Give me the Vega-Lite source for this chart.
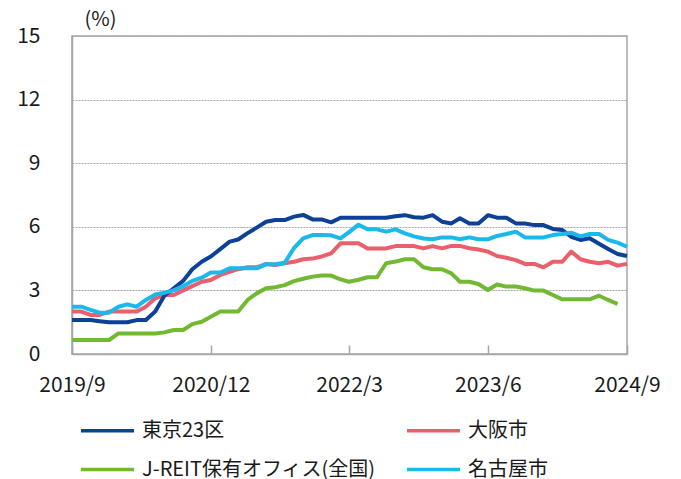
{
  "$schema": "https://vega.github.io/schema/vega-lite/v6.json",
  "autosize": {"type": "none"},
  "width": 555,
  "height": 318,
  "padding": {"left": 72, "top": 36, "right": 54, "bottom": 125},
  "background": "white",
  "config": {
    "font": "Noto Sans CJK JP",
    "view": {"stroke": "#a6a6a6", "strokeWidth": 1.5}
  },
  "data": {
    "values": [
      {"d": "2019-09-01", "東京23区": 1.6, "大阪市": 2.0, "J-REIT保有オフィス(全国)": 0.66, "名古屋市": 2.23},
      {"d": "2019-10-01", "東京23区": 1.6, "大阪市": 2.0, "J-REIT保有オフィス(全国)": 0.66, "名古屋市": 2.23},
      {"d": "2019-11-01", "東京23区": 1.6, "大阪市": 1.84, "J-REIT保有オフィス(全国)": 0.66, "名古屋市": 2.08},
      {"d": "2019-12-01", "東京23区": 1.55, "大阪市": 1.84, "J-REIT保有オフィス(全国)": 0.66, "名古屋市": 1.95},
      {"d": "2020-01-01", "東京23区": 1.5, "大阪市": 2.0, "J-REIT保有オフィス(全国)": 0.66, "名古屋市": 1.95},
      {"d": "2020-02-01", "東京23区": 1.5, "大阪市": 2.0, "J-REIT保有オフィス(全国)": 0.97, "名古屋市": 2.23},
      {"d": "2020-03-01", "東京23区": 1.5, "大阪市": 2.0, "J-REIT保有オフィス(全国)": 0.97, "名古屋市": 2.34},
      {"d": "2020-04-01", "東京23区": 1.6, "大阪市": 2.0, "J-REIT保有オフィス(全国)": 0.97, "名古屋市": 2.23},
      {"d": "2020-05-01", "東京23区": 1.6, "大阪市": 2.23, "J-REIT保有オフィス(全国)": 0.97, "名古屋市": 2.55},
      {"d": "2020-06-01", "東京23区": 2.0, "大阪市": 2.63, "J-REIT保有オフィス(全国)": 0.97, "名古屋市": 2.81},
      {"d": "2020-07-01", "東京23区": 2.75, "大阪市": 2.78, "J-REIT保有オフィス(全国)": 1.02, "名古屋市": 2.89},
      {"d": "2020-08-01", "東京23区": 3.1, "大阪市": 2.78, "J-REIT保有オフィス(全国)": 1.13, "名古屋市": 3.0},
      {"d": "2020-09-01", "東京23区": 3.45, "大阪市": 3.0, "J-REIT保有オフィス(全国)": 1.13, "名古屋市": 3.2},
      {"d": "2020-10-01", "東京23区": 4.0, "大阪市": 3.2, "J-REIT保有オフィス(全国)": 1.41, "名古屋市": 3.45},
      {"d": "2020-11-01", "東京23区": 4.35, "大阪市": 3.41, "J-REIT保有オフィス(全国)": 1.52, "名古屋市": 3.6},
      {"d": "2020-12-01", "東京23区": 4.6, "大阪市": 3.49, "J-REIT保有オフィス(全国)": 1.76, "名古屋市": 3.84},
      {"d": "2021-01-01", "東京23区": 4.95, "大阪市": 3.73, "J-REIT保有オフィス(全国)": 2.0, "名古屋市": 3.84},
      {"d": "2021-02-01", "東京23区": 5.3, "大阪市": 3.88, "J-REIT保有オフィス(全国)": 2.0, "名古屋市": 4.04},
      {"d": "2021-03-01", "東京23区": 5.4, "大阪市": 4.0, "J-REIT保有オフィス(全国)": 2.0, "名古屋市": 4.04},
      {"d": "2021-04-01", "東京23区": 5.7, "大阪市": 4.09, "J-REIT保有オフィス(全国)": 2.55, "名古屋市": 4.04},
      {"d": "2021-05-01", "東京23区": 5.96, "大阪市": 4.09, "J-REIT保有オフィス(全国)": 2.86, "名古屋市": 4.04},
      {"d": "2021-06-01", "東京23区": 6.24, "大阪市": 4.25, "J-REIT保有オフィス(全国)": 3.1, "名古屋市": 4.23},
      {"d": "2021-07-01", "東京23区": 6.32, "大阪市": 4.2, "J-REIT保有オフィス(全国)": 3.15, "名古屋市": 4.23},
      {"d": "2021-08-01", "東京23区": 6.32, "大阪市": 4.28, "J-REIT保有オフィス(全国)": 3.25, "名古屋市": 4.3},
      {"d": "2021-09-01", "東京23区": 6.48, "大阪市": 4.35, "J-REIT保有オフィス(全国)": 3.44, "名古屋市": 5.0},
      {"d": "2021-10-01", "東京23区": 6.56, "大阪市": 4.47, "J-REIT保有オフィス(全国)": 3.55, "名古屋市": 5.45},
      {"d": "2021-11-01", "東京23区": 6.35, "大阪市": 4.5, "J-REIT保有オフィス(全国)": 3.65, "名古屋市": 5.61},
      {"d": "2021-12-01", "東京23区": 6.35, "大阪市": 4.6, "J-REIT保有オフィス(全国)": 3.7, "名古屋市": 5.61},
      {"d": "2022-01-01", "東京23区": 6.21, "大阪市": 4.75, "J-REIT保有オフィス(全国)": 3.7, "名古屋市": 5.6},
      {"d": "2022-02-01", "東京23区": 6.43, "大阪市": 5.22, "J-REIT保有オフィス(全国)": 3.52, "名古屋市": 5.45},
      {"d": "2022-03-01", "東京23区": 6.43, "大阪市": 5.22, "J-REIT保有オフィス(全国)": 3.41, "名古屋市": 5.75},
      {"d": "2022-04-01", "東京23区": 6.43, "大阪市": 5.22, "J-REIT保有オフィス(全国)": 3.5, "名古屋市": 6.1},
      {"d": "2022-05-01", "東京23区": 6.43, "大阪市": 4.98, "J-REIT保有オフィス(全国)": 3.62, "名古屋市": 5.88},
      {"d": "2022-06-01", "東京23区": 6.43, "大阪市": 4.98, "J-REIT保有オフィス(全国)": 3.62, "名古屋市": 5.88},
      {"d": "2022-07-01", "東京23区": 6.43, "大阪市": 4.98, "J-REIT保有オフィス(全国)": 4.28, "名古屋市": 5.77},
      {"d": "2022-08-01", "東京23区": 6.5, "大阪市": 5.09, "J-REIT保有オフィス(全国)": 4.36, "名古屋市": 5.88},
      {"d": "2022-09-01", "東京23区": 6.55, "大阪市": 5.09, "J-REIT保有オフィス(全国)": 4.47, "名古屋市": 5.69},
      {"d": "2022-10-01", "東京23区": 6.45, "大阪市": 5.09, "J-REIT保有オフィス(全国)": 4.47, "名古屋市": 5.55},
      {"d": "2022-11-01", "東京23区": 6.43, "大阪市": 4.98, "J-REIT保有オフィス(全国)": 4.09, "名古屋市": 5.45},
      {"d": "2022-12-01", "東京23区": 6.55, "大阪市": 5.09, "J-REIT保有オフィス(全国)": 4.0, "名古屋市": 5.41},
      {"d": "2023-01-01", "東京23区": 6.24, "大阪市": 4.98, "J-REIT保有オフィス(全国)": 4.0, "名古屋市": 5.5},
      {"d": "2023-02-01", "東京23区": 6.16, "大阪市": 5.1, "J-REIT保有オフィス(全国)": 3.8, "名古屋市": 5.5},
      {"d": "2023-03-01", "東京23区": 6.4, "大阪市": 5.1, "J-REIT保有オフィス(全国)": 3.41, "名古屋市": 5.41},
      {"d": "2023-04-01", "東京23区": 6.16, "大阪市": 4.99, "J-REIT保有オフィス(全国)": 3.41, "名古屋市": 5.5},
      {"d": "2023-05-01", "東京23区": 6.16, "大阪市": 4.93, "J-REIT保有オフィス(全国)": 3.3, "名古屋市": 5.41},
      {"d": "2023-06-01", "東京23区": 6.55, "大阪市": 4.83, "J-REIT保有オフィス(全国)": 3.02, "名古屋市": 5.41},
      {"d": "2023-07-01", "東京23区": 6.43, "大阪市": 4.62, "J-REIT保有オフィス(全国)": 3.28, "名古屋市": 5.57},
      {"d": "2023-08-01", "東京23区": 6.43, "大阪市": 4.54, "J-REIT保有オフィス(全国)": 3.18, "名古屋市": 5.66},
      {"d": "2023-09-01", "東京23区": 6.16, "大阪市": 4.43, "J-REIT保有オフィス(全国)": 3.18, "名古屋市": 5.77},
      {"d": "2023-10-01", "東京23区": 6.16, "大阪市": 4.25, "J-REIT保有オフィス(全国)": 3.1, "名古屋市": 5.5},
      {"d": "2023-11-01", "東京23区": 6.08, "大阪市": 4.25, "J-REIT保有オフィス(全国)": 2.99, "名古屋市": 5.5},
      {"d": "2023-12-01", "東京23区": 6.08, "大阪市": 4.09, "J-REIT保有オフィス(全国)": 2.99, "名古屋市": 5.5},
      {"d": "2024-01-01", "東京23区": 5.9, "大阪市": 4.35, "J-REIT保有オフィス(全国)": 2.78, "名古屋市": 5.61},
      {"d": "2024-02-01", "東京23区": 5.85, "大阪市": 4.35, "J-REIT保有オフィス(全国)": 2.58, "名古屋市": 5.66},
      {"d": "2024-03-01", "東京23区": 5.53, "大阪市": 4.83, "J-REIT保有オフィス(全国)": 2.58, "名古屋市": 5.72},
      {"d": "2024-04-01", "東京23区": 5.38, "大阪市": 4.47, "J-REIT保有オフィス(全国)": 2.58, "名古屋市": 5.55},
      {"d": "2024-05-01", "東京23区": 5.46, "大阪市": 4.35, "J-REIT保有オフィス(全国)": 2.58, "名古屋市": 5.66},
      {"d": "2024-06-01", "東京23区": 5.2, "大阪市": 4.28, "J-REIT保有オフィス(全国)": 2.75, "名古屋市": 5.66},
      {"d": "2024-07-01", "東京23区": 4.95, "大阪市": 4.35, "J-REIT保有オフィス(全国)": 2.55, "名古屋市": 5.38},
      {"d": "2024-08-01", "東京23区": 4.72, "大阪市": 4.17, "J-REIT保有オフィス(全国)": 2.36, "名古屋市": 5.25},
      {"d": "2024-09-01", "東京23区": 4.62, "大阪市": 4.25, "名古屋市": 5.06}
    ]
  },
  "transform": [
    {"fold": ["J-REIT保有オフィス(全国)", "大阪市", "東京23区", "名古屋市"], "as": ["series", "value"]},
    {"filter": "isValid(datum.value)"}
  ],
  "mark": {"type": "line", "strokeWidth": 4, "strokeJoin": "round"},
  "encoding": {
    "x": {
      "field": "d",
      "type": "temporal",
      "scale": {
        "type": "utc",
        "nice": false,
        "domain": [
          {"year": 2019, "month": 9, "date": 1, "utc": true},
          {"year": 2024, "month": 9, "date": 1, "utc": true}
        ]
      },
      "axis": {
        "title": null,
        "values": [
          {"year": 2019, "month": 9, "date": 1, "utc": true},
          {"year": 2020, "month": 12, "date": 1, "utc": true},
          {"year": 2022, "month": 3, "date": 1, "utc": true},
          {"year": 2023, "month": 6, "date": 1, "utc": true},
          {"year": 2024, "month": 9, "date": 1, "utc": true}
        ],
        "labelExpr": "utcFormat(datum.value, '%Y/%-m')",
        "grid": false,
        "ticks": true,
        "tickSize": -9,
        "tickColor": "#a6a6a6",
        "tickWidth": 1.5,
        "domainColor": "#a6a6a6",
        "domainWidth": 1.5,
        "labelFontSize": 21,
        "labelColor": "#1a1a1a",
        "labelPadding": 29,
        "labelFlush": false,
        "labelOverlap": false
      }
    },
    "y": {
      "field": "value",
      "type": "quantitative",
      "scale": {"domain": [0, 15], "nice": false},
      "axis": {
        "title": "(%)",
        "titleAngle": 0,
        "titleX": 28,
        "titleY": -17,
        "titleAlign": "center",
        "titleBaseline": "middle",
        "titleFontSize": 20,
        "titleFontWeight": "normal",
        "titleColor": "#1a1a1a",
        "values": [0, 3, 6, 9, 12, 15],
        "grid": true,
        "gridColor": "#a6a6a6",
        "gridDash": [2, 1],
        "gridWidth": 1.2,
        "ticks": false,
        "domainColor": "#a6a6a6",
        "domainWidth": 1.5,
        "labelFontSize": 21,
        "labelColor": "#1a1a1a",
        "labelPadding": 32
      }
    },
    "color": {
      "field": "series",
      "type": "nominal",
      "scale": {
        "domain": ["東京23区", "大阪市", "J-REIT保有オフィス(全国)", "名古屋市"],
        "range": ["#0d4097", "#ea5f6b", "#72b932", "#19b9ec"]
      },
      "legend": {
        "title": null,
        "orient": "none",
        "direction": "horizontal",
        "legendX": 7,
        "legendY": 366,
        "columns": 2,
        "columnPadding": 24,
        "rowPadding": -16,
        "symbolType": "stroke",
        "symbolSize": 2809,
        "symbolStrokeWidth": 3.5,
        "labelFontSize": 20,
        "labelColor": "#1a1a1a",
        "labelOffset": 6,
        "labelLimit": 400
      }
    }
  }
}
